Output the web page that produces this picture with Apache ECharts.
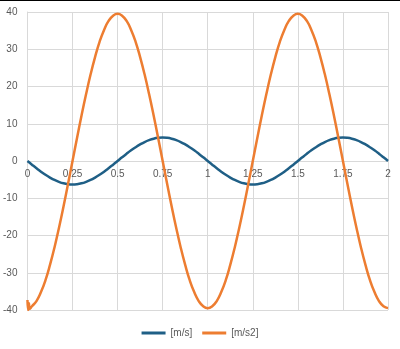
<!DOCTYPE html>
<html><head><meta charset="utf-8">
<script src="https://cdn.jsdelivr.net/npm/echarts@6/dist/echarts.min.js"></script>
<style>html,body{margin:0;padding:0;background:#fff}#c{width:400px;height:349px}</style>
</head><body><div id="c"></div>
<script>
var xTicks = ['0','0.25','0.5','0.75','1','1.25','1.5','1.75','2'];
var tValues = [0,0.025,0.05,0.075,0.1,0.125,0.15,0.175,0.2,0.225,0.25,0.275,0.3,0.325,0.35,0.375,0.4,0.425,0.45,0.475,0.5,
0.525,0.55,0.575,0.6,0.625,0.65,0.675,0.7,0.725,0.75,0.775,0.8,0.825,0.85,0.875,0.9,0.925,0.95,0.975,1,
1.025,1.05,1.075,1.1,1.125,1.15,1.175,1.2,1.225,1.25,1.275,1.3,1.325,1.35,1.375,1.4,1.425,1.45,1.475,1.5,
1.525,1.55,1.575,1.6,1.625,1.65,1.675,1.7,1.725,1.75,1.775,1.8,1.825,1.85,1.875,1.9,1.925,1.95,1.975,2];
var velocity = [0,-0.99,-1.95,-2.86,-3.70,-4.45,-5.10,-5.61,-5.99,-6.22,-6.3,-6.22,-5.99,-5.61,-5.10,-4.45,-3.70,-2.86,-1.95,-0.99,0,
0.99,1.95,2.86,3.70,4.45,5.10,5.61,5.99,6.22,6.3,6.22,5.99,5.61,5.10,4.45,3.70,2.86,1.95,0.99,0,
-0.99,-1.95,-2.86,-3.70,-4.45,-5.10,-5.61,-5.99,-6.22,-6.3,-6.22,-5.99,-5.61,-5.10,-4.45,-3.70,-2.86,-1.95,-0.99,0,
0.99,1.95,2.86,3.70,4.45,5.10,5.61,5.99,6.22,6.3,6.22,5.99,5.61,5.10,4.45,3.70,2.86,1.95,0.99,0];
var accel = [-39.5,-39.0,-37.6,-35.2,-32.0,-27.9,-23.2,-17.9,-12.2,-6.2,0,6.2,12.2,17.9,23.2,27.9,32.0,35.2,37.6,39.0,39.5,
39.0,37.6,35.2,32.0,27.9,23.2,17.9,12.2,6.2,0,-6.2,-12.2,-17.9,-23.2,-27.9,-32.0,-35.2,-37.6,-39.0,-39.5,
-39.0,-37.6,-35.2,-32.0,-27.9,-23.2,-17.9,-12.2,-6.2,0,6.2,12.2,17.9,23.2,27.9,32.0,35.2,37.6,39.0,39.5,
39.0,37.6,35.2,32.0,27.9,23.2,17.9,12.2,6.2,0,-6.2,-12.2,-17.9,-23.2,-27.9,-32.0,-35.2,-37.6,-39.0,-39.5];
var accelStartT = [0,0.004,0.008,0.012];
var accelStartV = [-37.3,-40,-38.2,-39.7];

var vData = tValues.map(function(t,i){return [t, velocity[i]];});
var aData = accelStartT.map(function(t,i){return [t, accelStartV[i]];})
  .concat(tValues.slice(1).map(function(t,i){return [t, accel[i+1]];}));

var chart = echarts.init(document.getElementById('c'), null, {renderer:'canvas'});
var txt = {color:'#595959', fontSize:10, fontFamily:'Liberation Sans, Arial, sans-serif'};
chart.setOption({
  animation:false,
  graphic:[{type:'rect', left:0, top:0, shape:{width:400,height:1}, style:{fill:'#000'}}],
  grid:{left:26, right:12, top:12, bottom:39},
  legend:{bottom:6, left:'center', itemWidth:24, itemHeight:3, itemGap:10, icon:'rect',
    textStyle:txt, data:['[m/s]','[m/s2]']},
  xAxis:{type:'value', min:0, max:2, interval:0.25, offset:-149,
    axisLine:{onZero:false, lineStyle:{color:'#d9d9d9'}},
    axisTick:{show:false},
    axisLabel:Object.assign({margin:8, formatter:function(v){var i=Math.round(v/0.25);return xTicks[i]||'';}}, txt),
    splitLine:{show:true, lineStyle:{color:'#d9d9d9'}}},
  yAxis:{type:'value', min:-40, max:40, interval:10,
    axisLine:{show:true, onZero:false, lineStyle:{color:'#d9d9d9'}},
    axisTick:{show:false},
    axisLabel:Object.assign({margin:10}, txt),
    splitLine:{show:true, lineStyle:{color:'#d9d9d9'}}},
  series:[
    {name:'[m/s]', type:'line', data:vData, smooth:true, showSymbol:false,
     lineStyle:{color:'#1f5f86', width:2.5}, itemStyle:{color:'#1f5f86'}},
    {name:'[m/s2]', type:'line', data:aData, smooth:true, showSymbol:false,
     lineStyle:{color:'#ed7d31', width:2.5}, itemStyle:{color:'#ed7d31'}}
  ]
});
</script></body></html>
